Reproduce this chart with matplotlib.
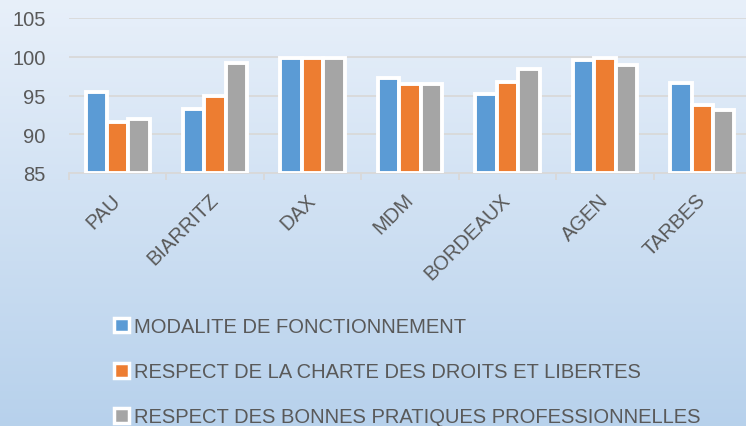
import numpy as np
import matplotlib
matplotlib.use("Agg")
import matplotlib.pyplot as plt
from matplotlib.patches import Patch

sites = ["PAU", "BIARRITZ", "DAX", "MDM", "BORDEAUX", "AGEN", "TARBES"]
series_names = [
    "MODALITE DE FONCTIONNEMENT",
    "RESPECT DE LA CHARTE DES DROITS ET LIBERTES",
    "RESPECT DES BONNES PRATIQUES PROFESSIONNELLES",
]
modalite = [95.4, 93.3, 99.9, 97.3, 95.2, 99.6, 96.6]
charte = [91.6, 95.0, 99.8, 96.5, 96.8, 99.8, 93.8]
pratiques = [92.0, 99.2, 99.8, 96.5, 98.4, 98.9, 93.1]
colors = ["#5b9bd5", "#ed7d31", "#a5a5a5"]
yticks = [85, 90, 95, 100, 105]

text_col = "#595959"
font = "Liberation Sans"

fig = plt.figure(figsize=(7.46, 4.27), dpi=100)

# fond en dégradé
bg = fig.add_axes([0, 0, 1, 1], zorder=-10)
top = np.array([0.910, 0.941, 0.980])
bot = np.array([0.718, 0.820, 0.925])
t = np.linspace(0, 1, 256)[:, None]
grad = top + (bot - top) * t
bg.imshow(grad[:, None, :], aspect="auto", extent=[0, 1, 0, 1])
bg.axis("off")

ax = fig.add_axes([69 / 746, 1 - 174 / 427, 682 / 746, (174 - 19) / 427])
ax.patch.set_alpha(0)

x = np.arange(len(sites))
w = 0.22
for i, (vals, c) in enumerate(zip([modalite, charte, pratiques], colors)):
    ax.bar(x + (i - 1) * w, np.array(vals) - 85, bottom=85, width=w,
           color=c, edgecolor="white", linewidth=2.8, zorder=3)

ax.set_ylim(85, 105)
ax.set_xlim(-0.5, len(sites) - 0.5)
ax.set_yticks(yticks)
ax.yaxis.grid(True, color="#d9d9d9", linewidth=1.3, zorder=0)
for s in ["top", "right", "left"]:
    ax.spines[s].set_visible(False)
ax.spines["bottom"].set_color("#d9d9d9")
ax.spines["bottom"].set_linewidth(1.3)
ax.spines["bottom"].set_zorder(1)
ax.tick_params(axis="y", length=0, pad=17, labelsize=14.5, labelcolor=text_col)
for lab in ax.get_yticklabels():
    lab.set_family(font)

# séparateurs de catégories en ticks majeurs, noms en ticks mineurs
ax.set_xticks(np.arange(len(sites) + 1) - 0.5)
ax.set_xticklabels([])
ax.tick_params(axis="x", which="major", length=5, width=1.3, color="#d9d9d9")
ax.set_xticks(x, minor=True)
ax.set_xticklabels(sites, minor=True, rotation=45, ha="right", va="center",
                   rotation_mode="anchor", family=font,
                   fontsize=14.5, color=text_col)
ax.tick_params(axis="x", which="minor", length=0, pad=17)

handles = [Patch(facecolor=c, edgecolor="white", linewidth=2.5) for c in colors]
fig.legend(handles, series_names, loc="upper left",
           bbox_to_anchor=(98 / 746, 1 - 302 / 427), frameon=False,
           prop={"family": font, "size": 14.5},
           labelcolor=text_col, handlelength=0.75, handleheight=0.75,
           handletextpad=0.25, labelspacing=1.3, borderpad=0.3)

fig.savefig("out.png", dpi=100)
